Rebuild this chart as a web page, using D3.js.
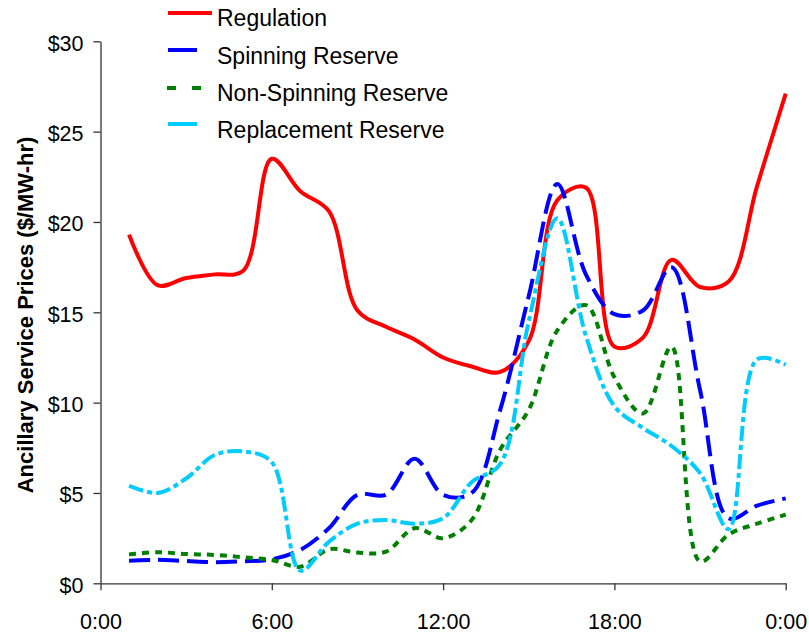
<!DOCTYPE html>
<html><head><meta charset="utf-8">
<script src="https://cdn.jsdelivr.net/npm/d3@7"></script>
<style>body{margin:0;background:#fff}svg{display:block}text{font-family:"Liberation Sans",Arial,sans-serif}</style>
</head><body>
<svg id="c" width="809" height="634"></svg>
<script>
const hours = [1,2,3,4,5,6,7,8,9,10,11,12,13,14,15,16,17,18,19,20,21,22,23,24];
const regulation = [19.3,16.5,16.9,17.1,17.3,23.5,21.7,20.6,15.1,14.2,13.5,12.5,12.0,11.7,13.4,21.2,21.9,13.1,13.6,17.9,16.4,16.7,22.0,27.1];
const spinning   = [1.25,1.3,1.23,1.17,1.22,1.33,1.85,3.05,4.9,4.9,6.9,4.9,5.0,9.6,15.9,22.1,17.1,14.9,15.1,17.5,10.7,3.6,4.3,4.7];
const nonSpinning= [1.6,1.72,1.62,1.57,1.44,1.29,0.92,1.88,1.7,1.75,3.05,2.5,3.5,7.4,9.6,14.0,15.4,11.4,9.4,13.1,1.2,2.7,3.3,3.8];
const replacement= [5.4,5.0,5.8,7.1,7.3,6.7,0.7,2.3,3.3,3.5,3.3,3.6,5.6,6.6,14.5,20.2,13.7,9.8,8.6,7.6,6.1,3.0,12.4,12.1];
const seriesNames = ["Regulation","Spinning Reserve","Non-Spinning Reserve","Replacement Reserve"];
const yTicks = [0,5,10,15,20,25,30];
const xTicks = [0,6,12,18,24];
const xTickLabels = ["0:00","6:00","12:00","18:00","0:00"];
const yTitle = "Ancillary Service Prices ($/MW-hr)";

const svg = d3.select("#c");
const x = d3.scaleLinear().domain([0,24]).range([100.5,785.7]);
const y = d3.scaleLinear().domain([0,30]).range([583.3,41.3]);

const styles = [
  {color:"#FF0000", dash:null},
  {color:"#0000FF", dash:"21,8"},
  {color:"#008000", dash:"7,6"},
  {color:"#00CCFF", dash:"15,4,5,4"}
];
const data = [regulation, spinning, nonSpinning, replacement];

// axes
const yAxis = d3.axisLeft(y).tickValues(yTicks).tickFormat(d=>"$"+d).tickSize(7).tickSizeOuter(0).tickPadding(10);
const gy = svg.append("g").attr("transform","translate(100.5,0)").call(yAxis);
gy.selectAll("text").attr("font-size",21.5).attr("dy","0.42em").attr("fill","#000").style("font-family","'Liberation Sans',Arial,sans-serif");
gy.selectAll("line,path").attr("stroke","#333").attr("stroke-width",1.3);

const xAxis = d3.axisBottom(x).tickValues(xTicks).tickFormat((d,i)=>xTickLabels[i]).tickSize(7).tickSizeOuter(0).tickPadding(23);
const gx = svg.append("g").attr("transform","translate(0,583.3)").call(xAxis);
gx.selectAll("text").attr("font-size",21.5).attr("fill","#000").style("font-family","'Liberation Sans',Arial,sans-serif");
gx.selectAll("line,path").attr("stroke","#333").attr("stroke-width",1.3);

// y title
svg.append("text").attr("transform","translate(33,315) rotate(-90)")
  .attr("text-anchor","middle").attr("font-size",22).attr("font-weight","bold").text(yTitle);

// lines
const line = d3.line().x((d,i)=>x(hours[i])).y(d=>y(d)).curve(d3.curveCatmullRom.alpha(0.5));
data.forEach((s,k)=>{
  svg.append("path").datum(s).attr("d",line).attr("fill","none")
    .attr("stroke",styles[k].color).attr("stroke-width",4)
    .attr("stroke-dasharray",styles[k].dash);
});

// legend
const legY = [13,50,88,124];
const legBase = [26,64,101,138];
const legLines = [
  {x1:168,x2:212,dash:null},
  {x1:168,x2:197,dash:null},
  {x1:167,x2:201,dash:"9,16"},
  {x1:168,x2:197,dash:null}
];
seriesNames.forEach((n,k)=>{
  svg.append("line").attr("x1",legLines[k].x1).attr("x2",legLines[k].x2)
    .attr("y1",legY[k]).attr("y2",legY[k]).attr("stroke",styles[k].color)
    .attr("stroke-width",4).attr("stroke-dasharray",legLines[k].dash);
  svg.append("text").attr("x",217).attr("y",legBase[k]).attr("font-size",23).text(n);
});
</script>
</body></html>
